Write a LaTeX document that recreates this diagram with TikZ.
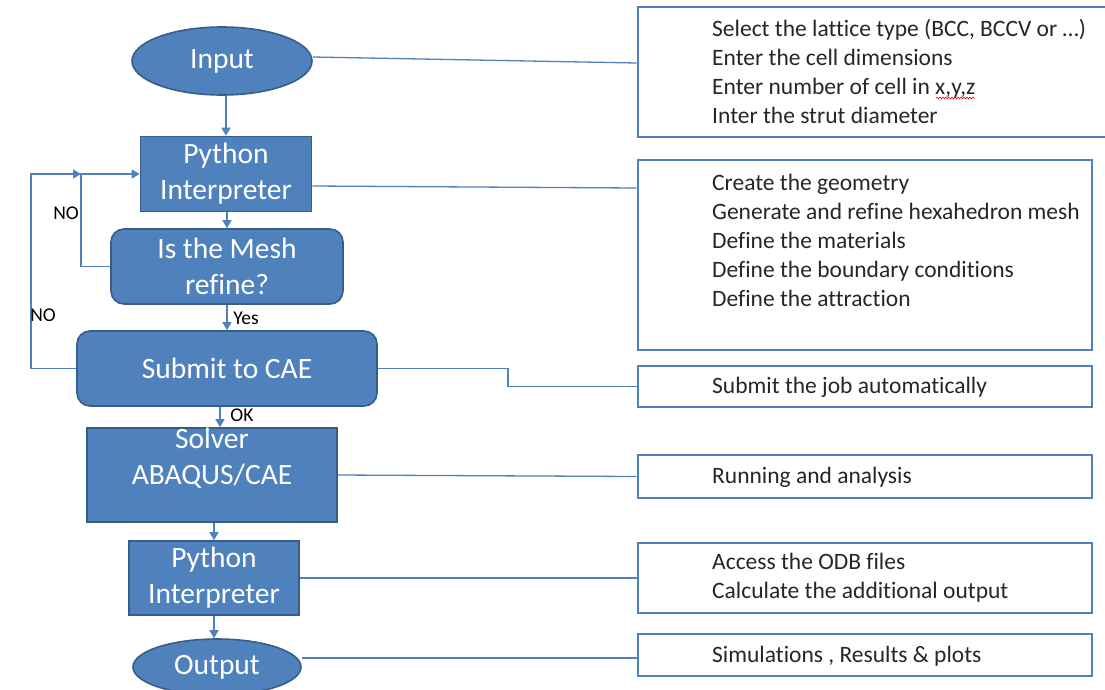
\documentclass[tikz,border=0pt]{standalone}
\usepackage{fontspec}
\setmainfont[Ligatures=NoCommon]{Carlito}
\usetikzlibrary{shapes.geometric,arrows.meta,decorations.pathmorphing}
\definecolor{ofill}{HTML}{4F81BD}
\definecolor{oedge}{HTML}{385D8A}
\definecolor{otext}{HTML}{262626}
\tikzset{
  flowshape/.style={draw=oedge, line width=1.6pt, fill=ofill, text=white, align=center,
    font=\fontsize{29.5}{36}\selectfont, inner sep=0pt},
  flowrect/.style={flowshape, rectangle},
  flowround/.style={flowshape, rectangle, rounded corners=13pt},
  flowoval/.style={flowshape, ellipse},
  notebox/.style={draw=ofill, line width=2.6pt, rectangle, inner sep=0pt},
  notetext/.style={anchor=west, align=left, text=otext, inner sep=0pt,
    font=\fontsize{23.5}{29}\selectfont},
  link/.style={draw=ofill, line width=1.3pt},
  arr/.style={link, -{Triangle[length=8pt,width=9pt]}},
  tag/.style={text=black, inner sep=0pt, font=\fontsize{19.5}{21}\selectfont}
}
\begin{document}
\begin{tikzpicture}[x=1pt,y=-1pt]
\useasboundingbox (0,0) rectangle (1105,689);

% main flow, left column
\node[flowoval,  minimum width=180pt, minimum height=68pt] (input)  at (222,61)   {Input};
\node[flowrect,  minimum width=171pt, minimum height=75pt] (py1)    at (226,174)  {Python\\Interpreter};
\node[flowround, minimum width=232pt, minimum height=75pt] (mesh)   at (227,266.5){Is the Mesh\\refine?};
\node[flowround, minimum width=300pt, minimum height=75pt] (submit) at (227,368.5){Submit to CAE};
\node[flowrect,  minimum width=250pt, minimum height=94pt] (solver) at (212,475)  {};
\node[text=white, align=center, font=\fontsize{29.5}{36}\selectfont, inner sep=0pt] (solvertxt) at (212,458) {Solver\\ABAQUS/CAE};
\node[flowrect,  minimum width=170pt, minimum height=74pt] (py2)    at (214,578)  {Python\\Interpreter};
\node[flowoval,  minimum width=168pt, minimum height=56pt] (output) at (217,667)  {Output};

% right column: description boxes
\node[notebox, minimum width=470pt, minimum height=130pt] (b1) at (873,72)    {};
\node[notebox, minimum width=454pt, minimum height=190pt] (b2) at (865,255)   {};
\node[notebox, minimum width=454pt, minimum height=41pt]  (b3) at (865,386.5) {};
\node[notebox, minimum width=454pt, minimum height=43pt]  (b4) at (865,476.5) {};
\node[notebox, minimum width=454pt, minimum height=70pt]  (b5) at (865,578)   {};
\node[notebox, minimum width=454pt, minimum height=42pt]  (b6) at (865,655)   {};

\node[notetext] (t1) at (712,71.5) {Select the lattice type (BCC, BCCV or \dots)\\Enter the cell dimensions\\Enter number of cell in x,y,z\\Inter the strut diameter};
\node[notetext] (t2) at (712,240) {Create the geometry\\Generate and refine hexahedron mesh\\Define the materials\\Define the boundary conditions\\Define the attraction};
\node[notetext] (t3) at (712,387) {Submit the job automatically};
\node[notetext] (t4) at (712,477) {Running and analysis};
\node[notetext] (t5) at (712,577.5) {Access the ODB files\\Calculate the additional output};
\node[notetext] (t6) at (712,656) {Simulations , Results \& plots};

% spell-check squiggle under x,y,z
\coordinate (sq1) at (936,98);
\coordinate (sq2) at (975,98);
\draw[red, line width=0.6pt, decorate, decoration={snake, amplitude=0.9pt, segment length=3pt}] (sq1) -- (sq2);

% downward arrows
\draw[arr] (input.south -| py1) -- (py1.north);
\draw[arr] (py1.south -| mesh) -- (mesh.north);
\draw[arr] (mesh.south) -- (submit.north);
\draw[arr] ([xshift=-7pt]submit.south) -- ([xshift=-7pt]submit.south |- solver.north);
\draw[arr] (solver.south -| py2) -- (py2.north);
\draw[arr] (py2.south) -- (py2.south |- output.north);

% feedback loops
\coordinate (j) at (81,174);
\coordinate (k) at (31,174);
\draw[arr] (mesh.west) -| (j) -- (py1.west);
\draw[arr] (submit.west) -| (k) -- (j);

% branch labels
\node[tag] (no1) at (66,213) {NO};
\node[tag] (no2) at (43,315) {NO};
\node[tag] (yes) at (246,318) {Yes};
\node[tag] (ok)  at (242,415) {OK};

% links to description boxes
\draw[link] ([yshift=4pt]input.east) -- ([yshift=9pt]b1.west);
\draw[link] ([yshift=-12pt]py1.east) -- ([yshift=67pt]b2.west);
\coordinate (bend) at (508,368.5);
\draw[link] (submit.east) -- (bend) |- (b3.west);
\draw[link] (solver.east) -- (b4.west);
\draw[link] (py2.east) -- (py2.east -| b5.west);
\draw[link] ([yshift=9pt]output.east) -- ([yshift=-3pt]b6.west);
\end{tikzpicture}
\end{document}
